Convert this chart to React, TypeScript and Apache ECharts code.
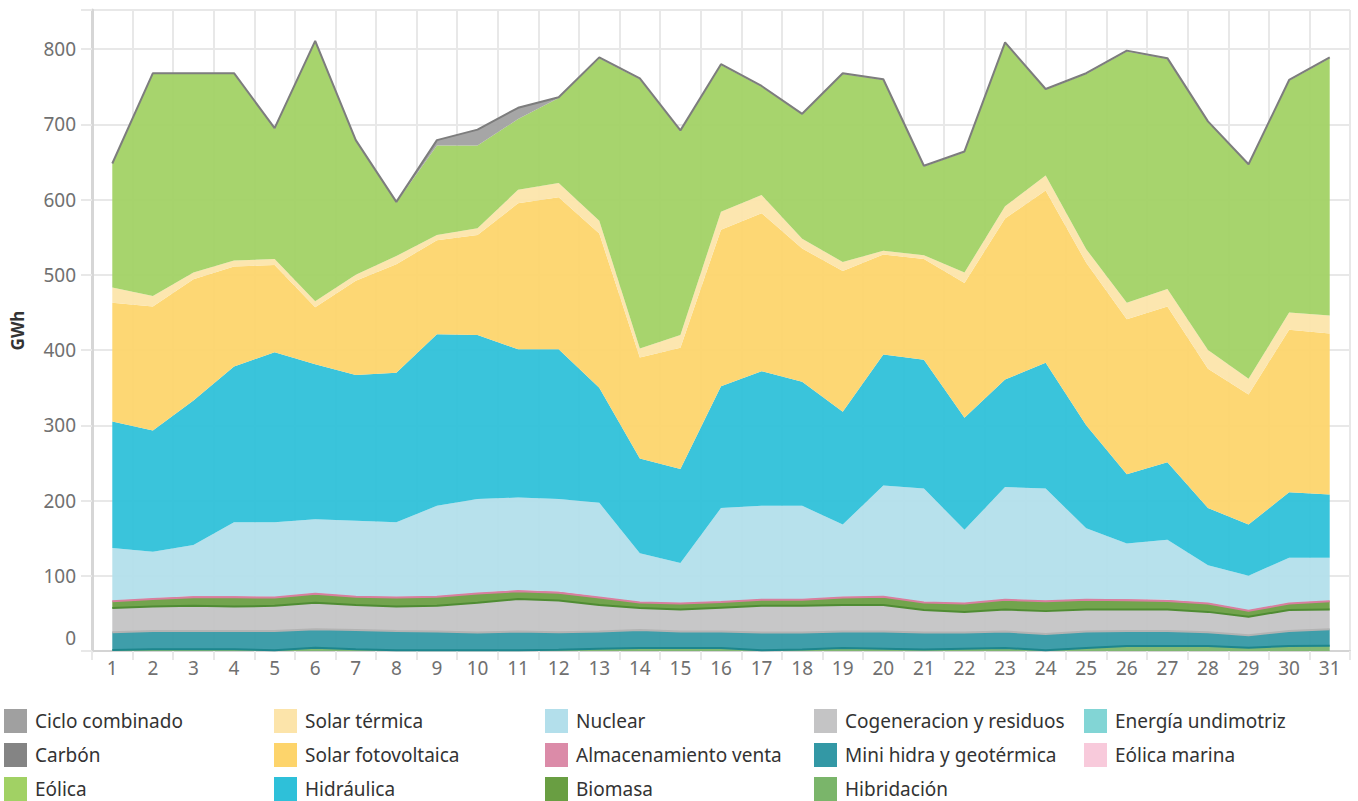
import React, { useEffect, useRef } from "react";
import * as echarts from "echarts";

const days = ["1","2","3","4","5","6","7","8","9","10","11","12","13","14","15","16","17","18","19","20","21","22","23","24","25","26","27","28","29","30","31"];

const cicloCombinado = [1,1,1,1,1,1,1,1,7,21,15,1,1,1,1,1,1,1,1,1,1,1,1,1,1,1,1,1,1,1,1];
const carbon = [0,0,0,0,0,0,0,0,0,0,0,0,0,0,0,0,0,0,0,0,0,0,0,0,0,0,0,0,0,0,0];
const eolica = [164,295,264,248,173,345,178,71,119,110,94,113,216,358,271,195,144,165,250,227,118,160,217,114,233,334,306,303,284,308,342];
const solarTermica = [20,14,9,8,8,8,8,11,7,9,18,19,17,12,17,24,24,13,12,5,5,14,16,20,18,22,23,25,21,23,24];
const solarFV = [158,165,161,133,116,76,125,144,125,133,194,202,205,134,161,208,210,177,187,133,134,179,214,229,216,206,207,185,173,216,214];
const hidraulica = [168,161,192,207,226,206,194,199,228,218,197,199,153,126,125,162,179,165,150,174,171,149,143,167,137,92,103,76,68,87,84];
const nuclear = [70,62,68,98,99,98,100,99,120,124.5,123,123,125,64.5,53,124,124,124,96,147,150.5,97,149,149,94,74,80,50,45.5,60,57];
const almacenamiento = [1,1,1.5,1.5,1,1,1,1,1,1,1.5,1.5,1,1,1,1,1,1,1,1,1,1,1,1,1,1.5,1.5,1,1,1,1];
const biomasa = [9,10,11.5,12.5,11,12,11,12,12,12.5,10.5,10.5,10,7.5,8,7.5,8,8,10,11,10,11,13,13,13,12.5,11.5,11,7.9,8.5,11];
const cogeneracion = [32,32.5,33.5,32.5,33.5,35,33,32.5,34,39.5,43,42,35,29,29,31.5,35.5,35.5,35,35,30,27.5,29,30.4,29,28.5,28.5,27,24.6,28,26];
const miniHidra = [23.7,24.3,24.3,24.3,25.5,24.6,25.8,25.5,25,23.5,25,23.5,23,24,22,22,23.5,22.5,22,23,22.5,21.5,22,21.6,22,19.9,19.9,18.4,16.6,19.9,22];
const hibridacion = [1.3,2.2,2.2,2.2,1,4.4,2.2,1,1,1,1,1.5,3,4,4,4,1,2,4,3,2,3,4,1,4,6.6,6.6,6.6,4.4,6.6,7];
const undimotriz = [0,0,0,0,0,0,0,0,0,0,0,0,0,0,0,0,0,0,0,0,0,0,0,0,0,0,0,0,0,0,0];
const eolicaMarina = [0,0,0,0,0,0,0,0,0,0,0,0,0,0,0,0,0,0,0,0,0,0,0,0,0,0,0,0,0,0,0];

// bottom-to-top stacking order
const stackDefs = [
  { name: "Energía undimotriz", data: undimotriz, color: "#82d5d5", line: null },
  { name: "Eólica marina", data: eolicaMarina, color: "#f8cadb", line: null },
  { name: "Hibridación", data: hibridacion, color: "#7ab56a", line: "#1d868d" },
  { name: "Mini hidra y geotérmica", data: miniHidra, color: "#3398a5", line: "#b3b3b3" },
  { name: "Cogeneracion y residuos", data: cogeneracion, color: "#c4c4c5", line: "#4f8c33" },
  { name: "Biomasa", data: biomasa, color: "#699e42", line: "#d77f9e" },
  { name: "Almacenamiento venta", data: almacenamiento, color: "#db8ba8", line: null },
  { name: "Nuclear", data: nuclear, color: "#b3dfeb", line: null },
  { name: "Hidráulica", data: hidraulica, color: "#2ec0d9", line: null },
  { name: "Solar fotovoltaica", data: solarFV, color: "#fdd46b", line: null },
  { name: "Solar térmica", data: solarTermica, color: "#fce4aa", line: null },
  { name: "Eólica", data: eolica, color: "#a1d164", line: null },
  { name: "Carbón", data: carbon, color: "#848484", line: null },
  { name: "Ciclo combinado", data: cicloCombinado, color: "#a0a0a0", line: "#7d7d7d" },
];

const legendColumns = [
  ["Ciclo combinado", "Carbón", "Eólica"],
  ["Solar térmica", "Solar fotovoltaica", "Hidráulica"],
  ["Nuclear", "Almacenamiento venta", "Biomasa"],
  ["Cogeneracion y residuos", "Mini hidra y geotérmica", "Hibridación"],
  ["Energía undimotriz", "Eólica marina"],
];
const legendLefts = [4, 274, 545, 814, 1084];

export default function App() {
  const ref = useRef<HTMLDivElement>(null);
  useEffect(() => {
    document.body.style.margin = "0";
    if (!ref.current) return;
    const chart = echarts.init(ref.current, null, { renderer: "svg" });
    const font = "'Noto Sans', 'Open Sans', sans-serif";
    chart.setOption({
      animation: false,
      backgroundColor: "#ffffff",
      grid: {
        left: 92,
        right: 8,
        top: 10,
        bottom: 150,
        show: true,
        borderColor: "#d6d6d6",
        borderWidth: 1,
        backgroundColor: "transparent",
      },
      xAxis: {
        type: "category",
        data: days,
        boundaryGap: true,
        axisLine: { show: true, lineStyle: { color: "#d4d4d4", width: 2 } },
        axisTick: { show: true, length: 9, lineStyle: { color: "#e8e8e8", width: 2 } },
        splitLine: { show: true, lineStyle: { color: "#e8e8e8", width: 2 } },
        axisLabel: { color: "#707070", fontSize: 19, fontFamily: font, margin: 7, interval: 0 },
      },
      yAxis: {
        type: "value",
        min: 0,
        max: 852,
        interval: 100,
        name: "GWh",
        nameLocation: "middle",
        nameGap: 66,
        nameRotate: 90,
        nameTextStyle: { color: "#333333", fontSize: 17, fontWeight: "bold", fontFamily: font },
        axisLine: { show: true, lineStyle: { color: "#d6d6d6", width: 3 } },
        axisTick: { show: true, length: 11, lineStyle: { color: "#e8e8e8", width: 2 } },
        splitLine: { show: true, lineStyle: { color: "#e8e8e8", width: 2 } },
        axisLabel: {
          color: "#707070",
          fontSize: 19,
          fontFamily: font,
          margin: 16,
          formatter: (v: number) => (v % 100 !== 0 ? "" : v === 0 ? "{z|0}" : String(v)),
          rich: { z: { fontSize: 19, color: "#707070", fontFamily: font, padding: [0, 0, 26, 0] } },
        },
      },
      legend: legendColumns.map((names, i) => ({
        data: names,
        orient: "vertical",
        left: legendLefts[i],
        top: 709,
        padding: 0,
        itemWidth: 23,
        itemHeight: 24,
        itemGap: 10,
        icon: "rect",
        selectedMode: false,
        itemStyle: { borderWidth: 0 },
        textStyle: { color: "#333333", fontSize: 19, fontFamily: font, padding: [0, 0, 0, 3] },
      })),
      series: stackDefs.map((s) => ({
        name: s.name,
        type: "line",
        stack: "total",
        data: s.data,
        color: s.color,
        symbol: "none",
        showSymbol: false,
        itemStyle: { color: s.color, borderWidth: 0 },
        lineStyle: s.line ? { color: s.line, width: 2 } : { width: 0, color: s.color },
        areaStyle: { color: s.color, opacity: 0.94 },
        emphasis: { disabled: true },
      })),
    });
    return () => chart.dispose();
  }, []);
  return <div ref={ref} style={{ width: 1358, height: 801 }} />;
}
